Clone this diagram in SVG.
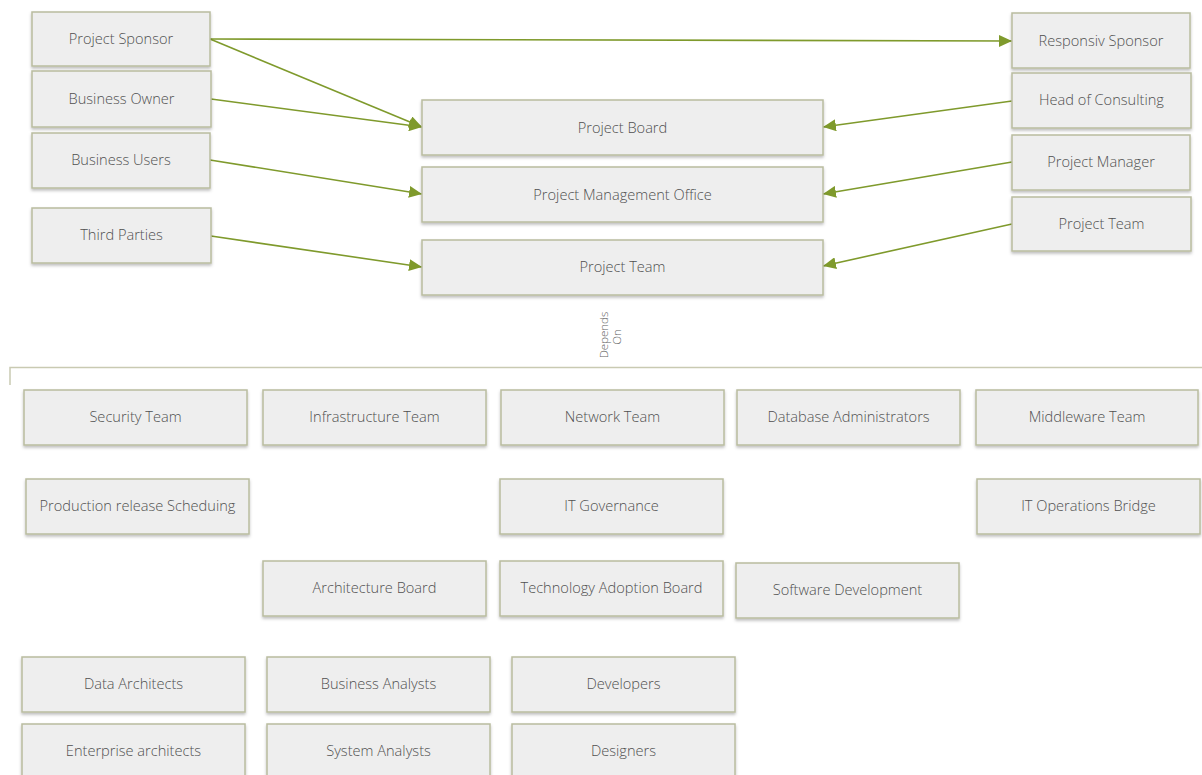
<svg xmlns="http://www.w3.org/2000/svg" width="1202" height="775" viewBox="0 0 1202 775">
<defs>
<style>
.box{fill:#eeeeee;stroke:#b9bc9f;stroke-width:1.5;filter:url(#sh)}
.lbl{font-family:"Open Sans","Liberation Sans",sans-serif;font-size:14.6px;font-weight:300;fill:#505050;text-anchor:middle;dominant-baseline:central}
.con{stroke:#7f9a2c;stroke-width:1.6;fill:none;marker-end:url(#ah)}
.sep{stroke:#c9cab2;stroke-width:1.5;fill:none}
.dep{font-family:"Open Sans","Liberation Sans",sans-serif;font-size:11.5px;font-weight:300;fill:#606060;text-anchor:middle}
</style>
<filter id="sh" x="-5%" y="-10%" width="110%" height="140%">
<feDropShadow dx="0" dy="2" stdDeviation="1.5" flood-color="#000" flood-opacity="0.25"/>
</filter>
<marker id="ah" markerUnits="userSpaceOnUse" markerWidth="13" markerHeight="12" refX="13" refY="6" orient="auto">
<path d="M0,0 L13,6 L0,12 z" fill="#7f9a2c"/>
</marker>
</defs>

<g id="connectors">
<line class="con" x1="210" y1="39" x2="1012" y2="41"/>
<line class="con" x1="210" y1="39" x2="422" y2="127"/>
<line class="con" x1="211" y1="99" x2="422" y2="127"/>
<line class="con" x1="210" y1="160" x2="422" y2="194"/>
<line class="con" x1="211" y1="236" x2="422" y2="267"/>
<line class="con" x1="1012" y1="101" x2="823" y2="127"/>
<line class="con" x1="1012" y1="162" x2="823" y2="194"/>
<line class="con" x1="1012" y1="224" x2="823" y2="266"/>
</g>

<g id="separator">
<path class="sep" d="M10,385 L10,367.5 L1202,367.5"/>
<text class="dep" transform="translate(608,335) rotate(-90)">Depends</text>
<text class="dep" transform="translate(621,337) rotate(-90)">On</text>
</g>

<g id="n-project-sponsor"><rect class="box" x="32" y="12" width="178" height="54"/><text class="lbl" x="121" y="38">Project Sponsor</text></g>
<g id="n-business-owner"><rect class="box" x="32" y="71" width="179" height="56"/><text class="lbl" x="121.5" y="98">Business Owner</text></g>
<g id="n-business-users"><rect class="box" x="32" y="133" width="178" height="55"/><text class="lbl" x="121" y="159">Business Users</text></g>
<g id="n-third-parties"><rect class="box" x="32" y="208" width="179" height="55"/><text class="lbl" x="121.5" y="234">Third Parties</text></g>

<g id="n-project-board"><rect class="box" x="422" y="100" width="401" height="55"/><text class="lbl" x="622.5" y="127">Project Board</text></g>
<g id="n-pmo"><rect class="box" x="422" y="167" width="401" height="55"/><text class="lbl" x="622.5" y="194">Project Management Office</text></g>
<g id="n-project-team-mid"><rect class="box" x="422" y="240" width="401" height="55"/><text class="lbl" x="622.5" y="266">Project Team</text></g>

<g id="n-responsiv-sponsor"><rect class="box" x="1012" y="13" width="178" height="55"/><text class="lbl" x="1101" y="40">Responsiv Sponsor</text></g>
<g id="n-head-consulting"><rect class="box" x="1012" y="73" width="179" height="55"/><text class="lbl" x="1101.5" y="99">Head of Consulting</text></g>
<g id="n-project-manager"><rect class="box" x="1012" y="135" width="178" height="55"/><text class="lbl" x="1101" y="161">Project Manager</text></g>
<g id="n-project-team-right"><rect class="box" x="1012" y="197" width="179" height="54"/><text class="lbl" x="1101.5" y="223">Project Team</text></g>

<g id="n-security"><rect class="box" x="24" y="390" width="223" height="55"/><text class="lbl" x="135.5" y="416">Security Team</text></g>
<g id="n-infrastructure"><rect class="box" x="263" y="390" width="223" height="55"/><text class="lbl" x="374.5" y="416">Infrastructure Team</text></g>
<g id="n-network"><rect class="box" x="501" y="390" width="223" height="55"/><text class="lbl" x="612.5" y="416">Network Team</text></g>
<g id="n-dba"><rect class="box" x="737" y="390" width="223" height="55"/><text class="lbl" x="848.5" y="416">Database Administrators</text></g>
<g id="n-middleware"><rect class="box" x="976" y="390" width="222" height="55"/><text class="lbl" x="1087" y="416">Middleware Team</text></g>

<g id="n-prod-release"><rect class="box" x="26" y="479" width="223" height="55"/><text class="lbl" x="137.5" y="505">Production release Scheduing</text></g>
<g id="n-it-governance"><rect class="box" x="500" y="479" width="223" height="55"/><text class="lbl" x="611.5" y="505">IT Governance</text></g>
<g id="n-it-ops-bridge"><rect class="box" x="977" y="479" width="223" height="55"/><text class="lbl" x="1088.5" y="505">IT Operations Bridge</text></g>

<g id="n-arch-board"><rect class="box" x="263" y="561" width="223" height="55"/><text class="lbl" x="374.5" y="587">Architecture Board</text></g>
<g id="n-tech-adoption"><rect class="box" x="500" y="561" width="223" height="55"/><text class="lbl" x="611.5" y="587">Technology Adoption Board</text></g>
<g id="n-software-dev"><rect class="box" x="736" y="563" width="223" height="55"/><text class="lbl" x="847.5" y="589">Software Development</text></g>

<g id="n-data-architects"><rect class="box" x="22" y="657" width="223" height="55"/><text class="lbl" x="133.5" y="683">Data Architects</text></g>
<g id="n-business-analysts"><rect class="box" x="267" y="657" width="223" height="55"/><text class="lbl" x="378.5" y="683">Business Analysts</text></g>
<g id="n-developers"><rect class="box" x="512" y="657" width="223" height="55"/><text class="lbl" x="623.5" y="683">Developers</text></g>

<g id="n-enterprise-architects"><rect class="box" x="22" y="724" width="223" height="56"/><text class="lbl" x="133.5" y="750">Enterprise architects</text></g>
<g id="n-system-analysts"><rect class="box" x="267" y="724" width="223" height="56"/><text class="lbl" x="378.5" y="750">System Analysts</text></g>
<g id="n-designers"><rect class="box" x="512" y="724" width="223" height="56"/><text class="lbl" x="623.5" y="750">Designers</text></g>
</svg>
